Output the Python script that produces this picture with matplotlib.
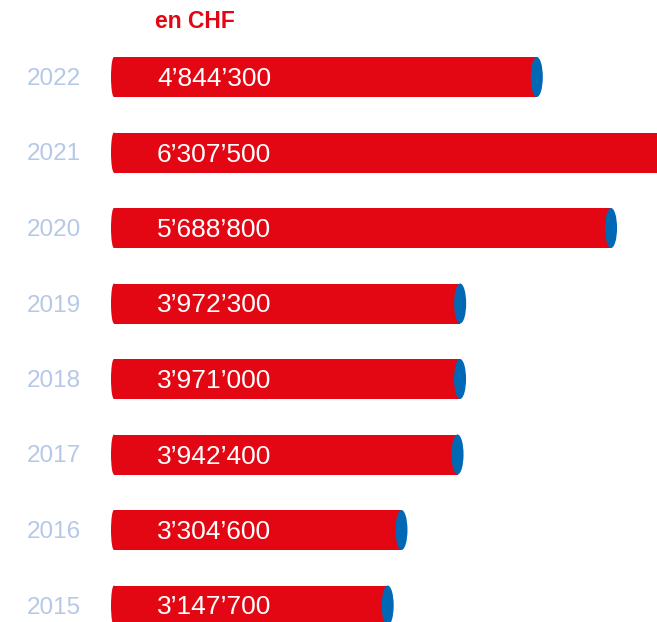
import matplotlib
matplotlib.use("Agg")
from matplotlib import pyplot as plt
from matplotlib.patches import Rectangle, Ellipse

plt.rcParams['font.family'] = ['Liberation Sans', 'DejaVu Sans']

years = ["2022", "2021", "2020", "2019", "2018", "2017", "2016", "2015"]
values = [4844300, 6307500, 5688800, 3972300, 3971000, 3942400, 3304600, 3147700]
labels = ["4’844’300", "6’307’500", "5’688’800", "3’972’300",
          "3’971’000", "3’942’400", "3’304’600", "3’147’700"]

RED = "#e30613"
BLUE = "#0068b4"
YEAR_COL = "#b5c8e8"

W, H = 657, 622
fig = plt.figure(figsize=(W / 100, H / 100), dpi=100)
ax = fig.add_axes([0, 0, 1, 1])
ax.axis("off")

# pixel mapping: bars start at x=111 px, 8.79e-5 px per CHF
px_per_chf = 8.79e-5
x0 = 111
ax.set_xlim(-x0 / px_per_chf, (W - x0) / px_per_chf)
row0, step = 77, 75.5
ax.set_ylim((H - row0) / step, -row0 / step)

bar_h = 40 / step
cap_w = 12 / px_per_chf
left_w = 6 / px_per_chf
txt_dy = 2 / step

for i, (yr, v, lab) in enumerate(zip(years, values, labels)):
    ax.add_patch(Rectangle((left_w / 2, i - bar_h / 2), v - left_w / 2, bar_h,
                           color=RED, lw=0))
    ax.add_patch(Ellipse((left_w / 2, i), left_w, bar_h, color=RED, lw=0))
    ax.add_patch(Ellipse((v, i), cap_w, bar_h, color=BLUE, lw=0))
    ax.text(-57 / px_per_chf, i + txt_dy, yr, color=YEAR_COL, fontsize=17.5,
            ha="center", va="center")
    ax.text(46 / px_per_chf, i + txt_dy, lab, color="white", fontsize=19,
            ha="left", va="center")

fig.text(155 / W, 1 - 21 / H, "en CHF", color=RED, fontsize=16.5,
         fontweight="bold", ha="left", va="center")

fig.savefig("out.png", dpi=100)
